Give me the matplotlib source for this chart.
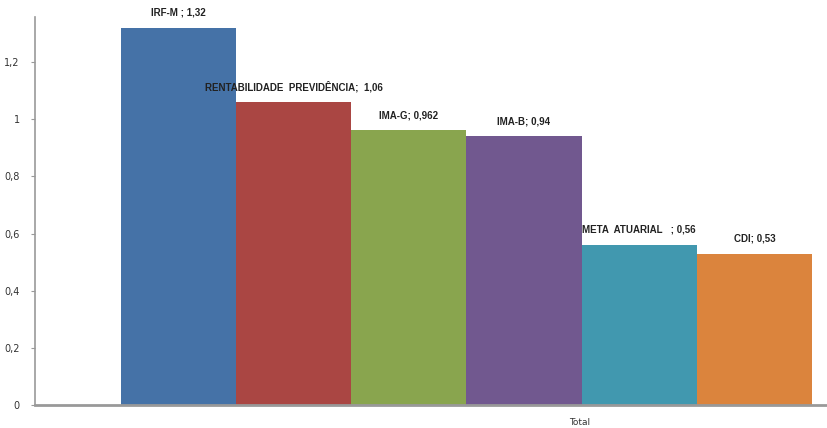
import matplotlib.pyplot as plt

# values
labels = ['IRF-M ; 1,32', 'RENTABILIDADE  PREVIDÊNCIA;  1,06', 'IMA-G; 0,962',
          'IMA-B; 0,94', 'META  ATUARIAL   ; 0,56', 'CDI; 0,53']
values = [1.32, 1.06, 0.962, 0.94, 0.56, 0.53]
colors = ['#4572A7', '#AA4643', '#89A54E', '#71588F', '#4198AF', '#DB843D']
yticks = [0, 0.2, 0.4, 0.6, 0.8, 1.0, 1.2]
ytick_labels = ['0', '0,2', '0,4', '0,6', '0,8', '1', '1,2']

fig = plt.figure(figsize=(8.27, 4.28), dpi=100)
ax = fig.add_axes([0.0423, 0.0537, 0.9577, 0.9063])

x = list(range(len(values)))
ax.bar(x, values, width=1.0, color=colors, edgecolor='none')

# data labels above each bar
for xi, v, lab in zip(x, values, labels):
    ax.text(xi, v + 0.035, lab, ha='center', va='bottom', fontsize=7,
            fontweight='bold', color='#222222', family='Liberation Sans')

ax.set_xlim(-1.245, 5.63)
ax.set_ylim(0, 1.357)
ax.set_yticks(yticks)
ax.set_yticklabels(ytick_labels, fontsize=7, color='#333333')
ax.set_xticks([])

for side in ['top', 'right']:
    ax.spines[side].set_visible(False)
ax.spines['left'].set_color('#999999')
ax.spines['left'].set_linewidth(1.2)
ax.spines['bottom'].set_color('#999999')
ax.spines['bottom'].set_linewidth(2)
ax.tick_params(axis='y', length=3, color='#999999', pad=8)

fig.text(580 / 827, 0.003, 'Total', ha='center', va='bottom', fontsize=6.5, color='#333333')

fig.savefig('out.png', dpi=100)
